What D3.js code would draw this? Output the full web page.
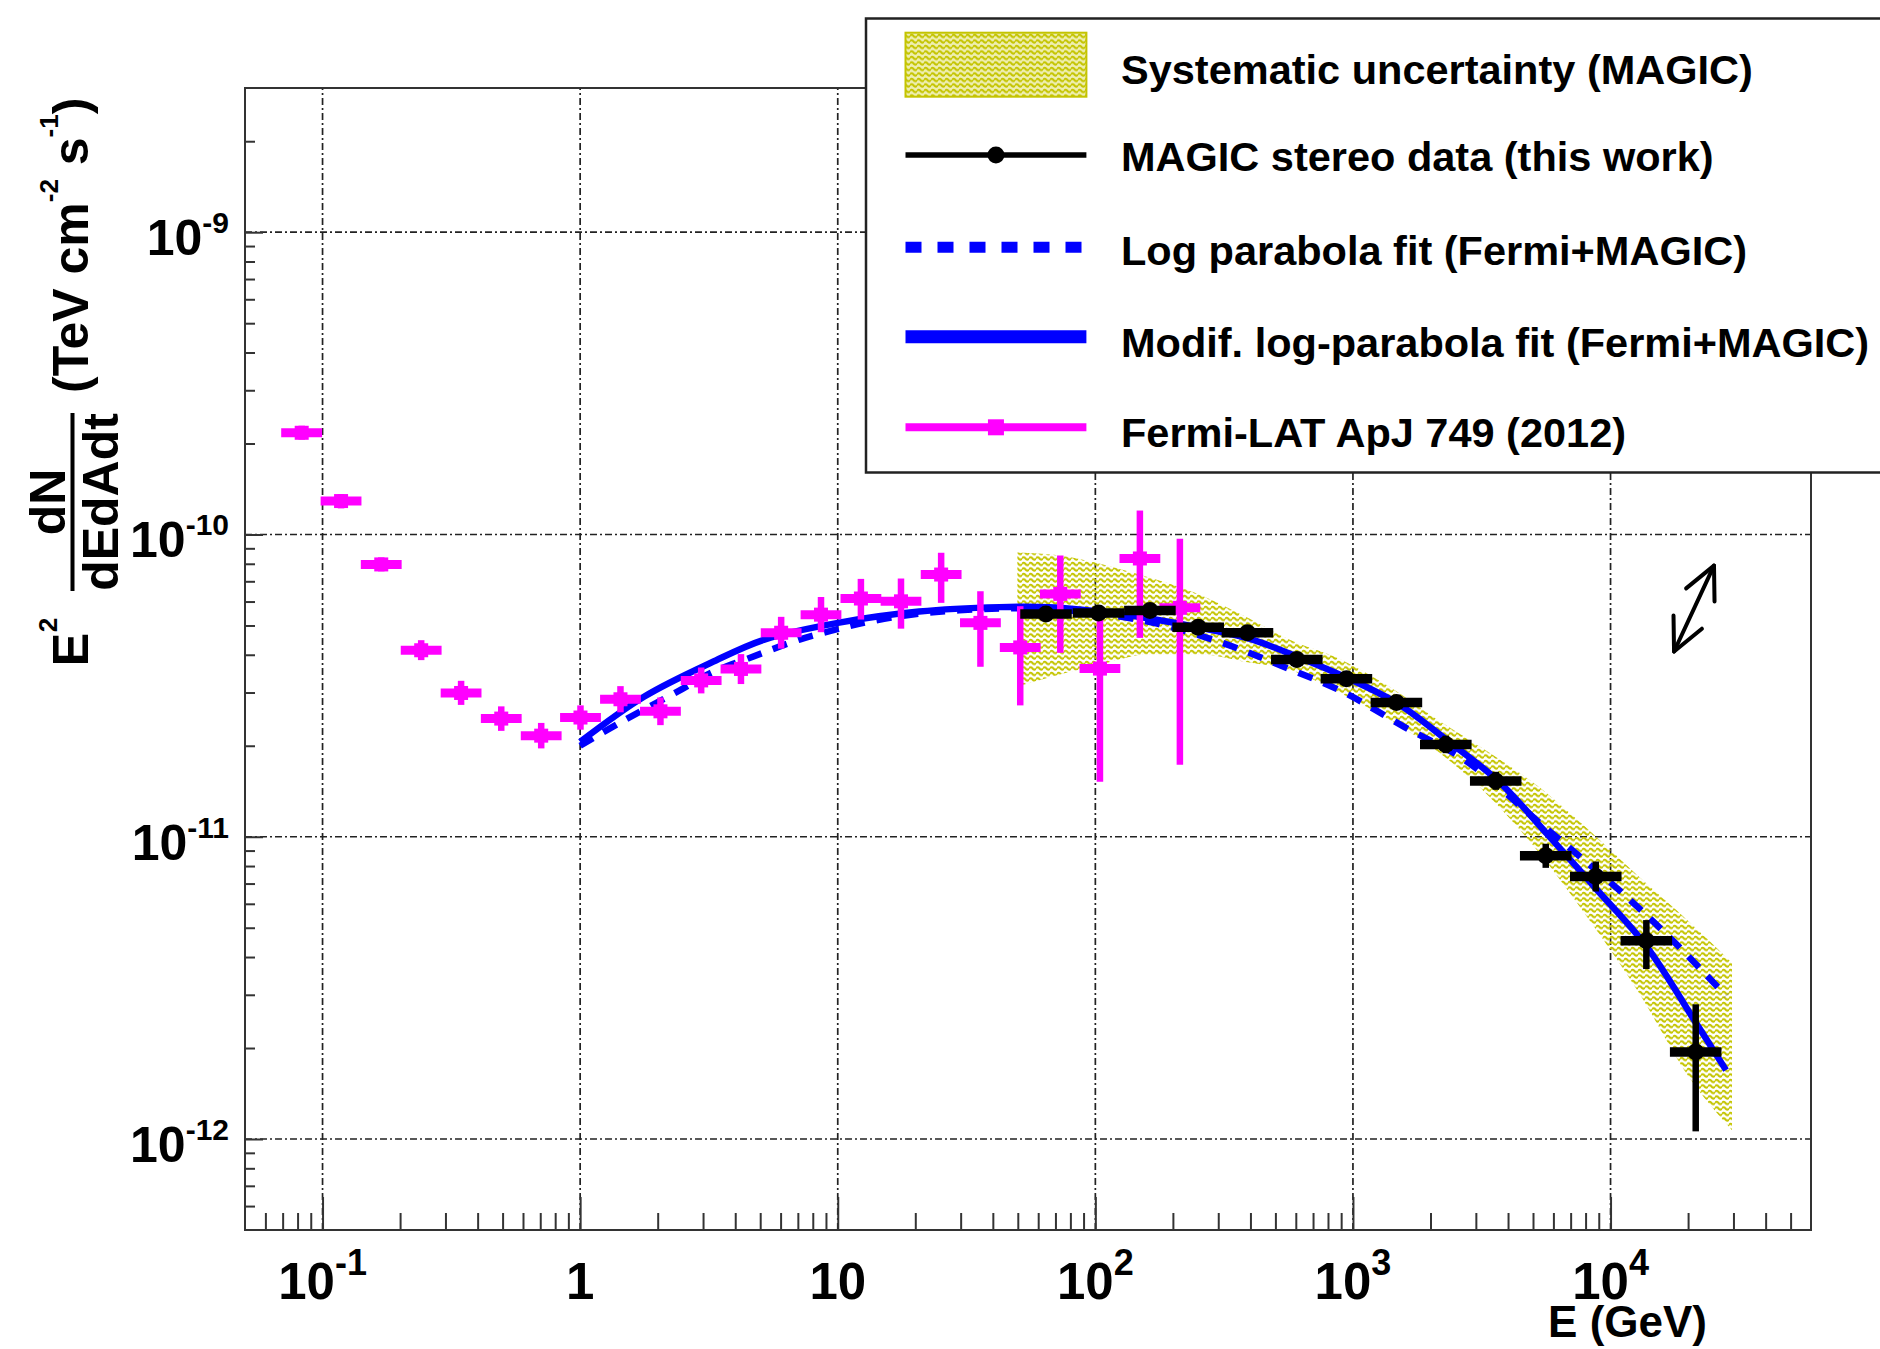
<!DOCTYPE html>
<html><head><meta charset="utf-8">
<script src="https://cdn.jsdelivr.net/npm/d3@7"></script>
<style>
html,body{margin:0;padding:0;background:#fff;}
svg{display:block;}
text{font-family:"Liberation Sans",Arial,Helvetica,sans-serif;font-weight:bold;fill:#000;}
</style></head><body>
<svg id="chart" width="1880" height="1349"></svg>
<script>
// ---------------- DATA ----------------
// Fermi-LAT ApJ 749 (2012) — E in GeV, flux E^2 dN/dE in TeV cm^-2 s^-1
const fermiE   = [0.083, 0.118, 0.169, 0.2415, 0.345, 0.494, 0.706, 1.003, 1.434, 2.05, 2.95, 4.21, 6.03, 8.61, 12.3, 17.6, 25.2, 35.8, 51.1, 73.1, 104.2, 148.9, 212.9];
const fermiElo = [0.0691, 0.0983, 0.1408, 0.2012, 0.2875, 0.4117, 0.5883, 0.8358, 1.195, 1.708, 2.458, 3.508, 5.025, 7.175, 10.25, 14.67, 21.0, 29.83, 42.58, 60.92, 86.83, 124.1, 177.4];
const fermiEhi = [0.0996, 0.1416, 0.2028, 0.2898, 0.414, 0.5928, 0.8472, 1.204, 1.721, 2.46, 3.54, 5.052, 7.236, 10.33, 14.76, 21.12, 30.24, 42.96, 61.32, 87.72, 125.0, 178.7, 255.5];
const fermiF   = [2.17e-10, 1.29e-10, 7.96e-11, 4.14e-11, 2.99e-11, 2.46e-11, 2.16e-11, 2.48e-11, 2.85e-11, 2.60e-11, 3.29e-11, 3.59e-11, 4.73e-11, 5.43e-11, 6.14e-11, 6.01e-11, 7.37e-11, 5.10e-11, 4.23e-11, 6.36e-11, 3.60e-11, 8.33e-11, 5.72e-11];
const fermiFlo = [2.06e-10, 1.22e-10, 7.55e-11, 3.84e-11, 2.73e-11, 2.24e-11, 1.96e-11, 2.26e-11, 2.58e-11, 2.34e-11, 2.98e-11, 3.20e-11, 4.19e-11, 4.75e-11, 5.23e-11, 4.88e-11, 5.94e-11, 3.65e-11, 2.72e-11, 4.06e-11, 1.52e-11, 4.55e-11, 1.73e-11];
const fermiFhi = [2.29e-10, 1.36e-10, 8.40e-11, 4.47e-11, 3.28e-11, 2.70e-11, 2.38e-11, 2.72e-11, 3.15e-11, 2.89e-11, 3.63e-11, 4.02e-11, 5.34e-11, 6.21e-11, 7.13e-11, 7.15e-11, 8.70e-11, 6.49e-11, 5.79e-11, 8.52e-11, 5.23e-11, 1.20e-10, 9.68e-11];

// MAGIC stereo data (this work)
const magicE   = [64.3, 102.9, 162.9, 250.8, 389.6, 605.6, 943.4, 1475, 2294, 3584, 5604, 8763, 13772, 21410];
const magicElo = [51.1, 81.7, 129.3, 199.1, 309.3, 480.8, 749.0, 1171, 1821, 2846, 4449, 6958, 10935, 17000];
const magicEhi = [81.0, 129.6, 205.1, 315.8, 490.5, 762.4, 1187.7, 1857, 2888, 4512, 7055, 11032, 17339, 26953];
const magicF   = [5.46e-11, 5.50e-11, 5.60e-11, 4.93e-11, 4.73e-11, 3.86e-11, 3.33e-11, 2.78e-11, 2.02e-11, 1.53e-11, 8.65e-12, 7.39e-12, 4.53e-12, 1.94e-12];
const magicFlo = [5.25e-11, 5.29e-11, 5.38e-11, 4.73e-11, 4.54e-11, 3.70e-11, 3.19e-11, 2.65e-11, 1.89e-11, 1.43e-11, 7.89e-12, 6.59e-12, 3.65e-12, 1.06e-12];
const magicFhi = [5.68e-11, 5.72e-11, 5.83e-11, 5.13e-11, 4.92e-11, 4.02e-11, 3.47e-11, 2.92e-11, 2.16e-11, 1.64e-11, 9.48e-12, 8.28e-12, 5.30e-12, 2.79e-12];

// Modified log-parabola fit (solid)
const modE = [1.0, 1.776, 3.233, 5.19, 10.14, 20.7, 42.4, 66.2, 103.5, 161.9, 253.1, 395.6, 618.3, 966.7, 1511, 2362, 3693, 5620, 8783, 13730, 21470, 28070];
const modF = [2.06e-11, 2.91e-11, 3.77e-11, 4.49e-11, 5.11e-11, 5.56e-11, 5.75e-11, 5.75e-11, 5.56e-11, 5.27e-11, 4.92e-11, 4.52e-11, 3.92e-11, 3.33e-11, 2.74e-11, 2.06e-11, 1.52e-11, 1.03e-11, 6.73e-12, 4.36e-12, 2.42e-12, 1.69e-12];

// Log parabola fit (dashed)
const lpE = [1.0, 1.446, 2.386, 3.233, 4.46, 7.10, 9.88, 13.27, 20.7, 42.4, 66.2, 103.5, 173.9, 308, 526.4, 924.6, 1580, 2725, 5520, 11080, 17640, 28070];
const lpF = [2.00e-11, 2.40e-11, 3.02e-11, 3.49e-11, 3.88e-11, 4.49e-11, 4.85e-11, 5.15e-11, 5.47e-11, 5.69e-11, 5.65e-11, 5.47e-11, 5.07e-11, 4.39e-11, 3.68e-11, 3.00e-11, 2.31e-11, 1.79e-11, 1.08e-11, 6.53e-12, 4.49e-12, 2.98e-12];

// Systematic uncertainty band (MAGIC)
const bandE  = [49.8, 77.1, 103.5, 161.9, 253.1, 395.6, 565.5, 884, 1382, 2160, 3377, 5280, 8254, 12900, 20170, 29610];
const bandHi = [8.72e-11, 8.46e-11, 8.02e-11, 7.20e-11, 6.33e-11, 5.27e-11, 4.49e-11, 3.88e-11, 3.14e-11, 2.42e-11, 1.90e-11, 1.46e-11, 1.05e-11, 7.37e-12, 5.23e-12, 3.83e-12];
const bandLo = [3.14e-11, 3.49e-11, 3.71e-11, 4.01e-11, 4.01e-11, 3.77e-11, 3.57e-11, 3.00e-11, 2.44e-11, 1.90e-11, 1.36e-11, 8.85e-12, 5.31e-12, 3.04e-12, 1.60e-12, 1.07e-12];

// Energy-scale arrow (double headed)
const arrowE = [17640, 25210];
const arrowF = [4.10e-11, 7.89e-11];

// Axis ticks / labels
const xMajorVals = [0.1, 1, 10, 100, 1000, 10000];
const xTickBase  = ["10", "1", "10", "10", "10", "10"];
const xTickExp   = ["-1", "", "", "2", "3", "4"];
const yMajorVals = [1e-12, 1e-11, 1e-10, 1e-9];
const yTickBase  = ["10", "10", "10", "10"];
const yTickExp   = ["-12", "-11", "-10", "-9"];

const legendLabels = ["Systematic uncertainty (MAGIC)", "MAGIC stereo data (this work)", "Log parabola fit (Fermi+MAGIC)", "Modif. log-parabola fit (Fermi+MAGIC)", "Fermi-LAT ApJ 749 (2012)"];

// ---------------- LAYOUT ----------------
const L = 245, R = 1811, T = 88, B = 1230;
const x = d3.scaleLog().domain([0.05, 6e4]).range([L, R]);
const y = d3.scaleLog().domain([5e-13, 3e-9]).range([B, T]);

const BLUE = "#0000ff", MAG = "#ff00ff", YEL = "#c4c400";

const svg = d3.select("#chart");
svg.append("rect").attr("width", 1880).attr("height", 1349).attr("fill", "#fff");
const defs = svg.append("defs");
const pat = defs.append("pattern").attr("id", "hatch").attr("patternUnits", "userSpaceOnUse")
  .attr("width", 7).attr("height", 5.5);
pat.append("path").attr("d", "M0,3 Q1.75,0.6 3.5,3 T7,3").attr("fill", "none").attr("stroke", YEL).attr("stroke-width", 2.1);
defs.append("clipPath").attr("id", "clip").append("rect").attr("x", L).attr("y", T).attr("width", R - L).attr("height", B - T);

// grid
const grid = svg.append("g").attr("stroke", "#222").attr("stroke-width", 1.7).attr("stroke-dasharray", "7,3,2,3");
xMajorVals.forEach(v => grid.append("line").attr("x1", x(v)).attr("x2", x(v)).attr("y1", B).attr("y2", T));
yMajorVals.forEach(v => grid.append("line").attr("x1", L).attr("x2", R).attr("y1", y(v)).attr("y2", y(v)));

// minor tick values
function minors(dom) {
  const out = [];
  const lo = Math.floor(Math.log10(dom[0])), hi = Math.ceil(Math.log10(dom[1]));
  for (let e = lo; e <= hi; e++) for (let m = 2; m <= 9; m++) {
    const v = m * Math.pow(10, e);
    if (v > dom[0] * 1.0001 && v < dom[1] * 0.9999) out.push(v);
  }
  return out;
}
const xMin = minors(x.domain()), yMin = minors(y.domain());

// axes ticks via d3.axis
function styleAxis(g) { g.select(".domain").remove(); g.selectAll("line").attr("stroke", "#333").attr("stroke-width", 2); g.selectAll("text").remove(); }
svg.append("g").attr("transform", `translate(0,${B})`).call(d3.axisBottom(x).tickValues(xMin).tickSize(-17).tickFormat("")).call(styleAxis);
svg.append("g").attr("transform", `translate(0,${B})`).call(d3.axisBottom(x).tickValues(xMajorVals).tickSize(-33).tickFormat("")).call(styleAxis);
svg.append("g").attr("transform", `translate(${L},0)`).call(d3.axisLeft(y).tickValues(yMin).tickSize(-10).tickFormat("")).call(styleAxis);
svg.append("g").attr("transform", `translate(${L},0)`).call(d3.axisLeft(y).tickValues(yMajorVals).tickSize(-18).tickFormat("")).call(styleAxis);

const plot = svg.append("g").attr("clip-path", "url(#clip)");

// band
const bandData = bandE.map((e, i) => ({ e, hi: bandHi[i], lo: bandLo[i] }));
plot.append("path").datum(bandData)
  .attr("d", d3.area().x(d => x(d.e)).y0(d => y(d.lo)).y1(d => y(d.hi)).curve(d3.curveMonotoneX))
  .attr("fill", "url(#hatch)");

// curves
const lineGen = d3.line().x(d => x(d[0])).y(d => y(d[1])).curve(d3.curveCatmullRom.alpha(0.5));
plot.append("path").datum(lpE.map((e, i) => [e, lpF[i]])).attr("d", lineGen)
  .attr("fill", "none").attr("stroke", BLUE).attr("stroke-width", 6.5).attr("stroke-dasharray", "15,12");
plot.append("path").datum(modE.map((e, i) => [e, modF[i]])).attr("d", lineGen)
  .attr("fill", "none").attr("stroke", BLUE).attr("stroke-width", 6.5);

// Fermi points
const fg = plot.append("g");
fermiE.forEach((e, i) => {
  fg.append("line").attr("x1", x(fermiElo[i])).attr("x2", x(fermiEhi[i])).attr("y1", y(fermiF[i])).attr("y2", y(fermiF[i]))
    .attr("stroke", MAG).attr("stroke-width", 9);
  fg.append("line").attr("x1", x(e)).attr("x2", x(e)).attr("y1", y(fermiFlo[i])).attr("y2", y(fermiFhi[i]))
    .attr("stroke", MAG).attr("stroke-width", 6.5);
  fg.append("rect").attr("x", x(e) - 7).attr("y", y(fermiF[i]) - 7).attr("width", 14).attr("height", 14).attr("fill", MAG);
});

// MAGIC points
const mg = plot.append("g");
magicE.forEach((e, i) => {
  mg.append("line").attr("x1", x(magicElo[i])).attr("x2", x(magicEhi[i])).attr("y1", y(magicF[i])).attr("y2", y(magicF[i]))
    .attr("stroke", "#000").attr("stroke-width", 9.5);
  mg.append("line").attr("x1", x(e)).attr("x2", x(e)).attr("y1", y(magicFlo[i])).attr("y2", y(magicFhi[i]))
    .attr("stroke", "#000").attr("stroke-width", 6.5);
  mg.append("circle").attr("cx", x(e)).attr("cy", y(magicF[i])).attr("r", 8.5).attr("fill", "#000");
});

// arrow
(function () {
  const x1 = x(arrowE[0]), y1 = y(arrowF[0]), x2 = x(arrowE[1]), y2 = y(arrowF[1]);
  const ang = Math.atan2(y2 - y1, x2 - x1), hl = 36, ha = 0.45;
  const g = svg.append("g").attr("stroke", "#000").attr("stroke-width", 4).attr("fill", "none").attr("stroke-linecap", "round").attr("stroke-linejoin", "round");
  g.append("line").attr("x1", x1).attr("y1", y1).attr("x2", x2).attr("y2", y2);
  const head = (px, py, a) => `M${px + hl * Math.cos(a + ha)},${py + hl * Math.sin(a + ha)}L${px},${py}L${px + hl * Math.cos(a - ha)},${py + hl * Math.sin(a - ha)}`;
  g.append("path").attr("d", head(x1, y1, ang));
  g.append("path").attr("d", head(x2, y2, ang + Math.PI));
})();

// frame
svg.append("rect").attr("x", L).attr("y", T).attr("width", R - L).attr("height", B - T)
  .attr("fill", "none").attr("stroke", "#333").attr("stroke-width", 2);

// x tick labels
xMajorVals.forEach((v, i) => {
  const t = svg.append("text").attr("x", x(v)).attr("y", 1299).attr("text-anchor", "middle").attr("font-size", 51);
  t.append("tspan").text(xTickBase[i]);
  if (xTickExp[i]) t.append("tspan").attr("font-size", 36).attr("dy", -24).text(xTickExp[i]);
});
// y tick labels
yMajorVals.forEach((v, i) => {
  const t = svg.append("text").attr("x", 229).attr("y", y(v) + 23).attr("text-anchor", "end").attr("font-size", 50);
  t.append("tspan").text(yTickBase[i]);
  t.append("tspan").attr("font-size", 30).attr("dy", -22).text(yTickExp[i]);
});

// x title
svg.append("text").attr("x", 1707).attr("y", 1337).attr("text-anchor", "end").attr("font-size", 44).text("E (GeV)");

// y title (rotated)
function rtext(bx, cy, str, size, anchor) {
  return svg.append("text").attr("transform", `translate(${bx},${cy}) rotate(-90)`).attr("text-anchor", anchor).attr("font-size", size).text(str);
}
rtext(88, 649.5, "E", 50, "middle");
rtext(57, 625, "2", 26, "middle");
rtext(65, 502, "dN", 50, "middle");
rtext(118, 502, "dEdAdt", 50, "middle");
svg.append("line").attr("x1", 72.5).attr("x2", 72.5).attr("y1", 413).attr("y2", 591).attr("stroke", "#000").attr("stroke-width", 4);
(function () {
  const t = svg.append("text").attr("transform", "translate(88,393) rotate(-90)").attr("text-anchor", "start").attr("font-size", 50);
  t.append("tspan").text("(TeV cm");
  t.append("tspan").attr("font-size", 26).attr("dy", -30).text("-2");
  t.append("tspan").attr("dy", 30).text(" s");
  t.append("tspan").attr("font-size", 26).attr("dy", -30).text("-1");
  t.append("tspan").attr("dy", 30).text(")");
})();

// legend
const lg = svg.append("g");
lg.append("rect").attr("x", 866).attr("y", 18.5).attr("width", 1100).attr("height", 454)
  .attr("fill", "#fff").attr("stroke", "#222").attr("stroke-width", 2.5);
const lx0 = 905.5, lx1 = 1086.4, lxc = (lx0 + lx1) / 2, tx = 1121;
const rowY = [64.7, 155, 247.3, 336.7, 427.3];
lg.append("rect").attr("x", lx0).attr("y", 32.7).attr("width", lx1 - lx0).attr("height", 64)
  .attr("fill", "#eeeeb0").attr("stroke", "none");
lg.append("rect").attr("x", lx0).attr("y", 32.7).attr("width", lx1 - lx0).attr("height", 64)
  .attr("fill", "url(#hatch)").attr("stroke", YEL).attr("stroke-width", 2);
lg.append("line").attr("x1", lx0).attr("x2", lx1).attr("y1", rowY[1]).attr("y2", rowY[1]).attr("stroke", "#000").attr("stroke-width", 5.5);
lg.append("circle").attr("cx", lxc).attr("cy", rowY[1]).attr("r", 8.5).attr("fill", "#000");
lg.append("line").attr("x1", lx0).attr("x2", lx1).attr("y1", rowY[2]).attr("y2", rowY[2]).attr("stroke", BLUE).attr("stroke-width", 11).attr("stroke-dasharray", "16,16");
lg.append("line").attr("x1", lx0).attr("x2", lx1).attr("y1", rowY[3]).attr("y2", rowY[3]).attr("stroke", BLUE).attr("stroke-width", 13);
lg.append("line").attr("x1", lx0).attr("x2", lx1).attr("y1", rowY[4]).attr("y2", rowY[4]).attr("stroke", MAG).attr("stroke-width", 8);
lg.append("rect").attr("x", lxc - 8).attr("y", rowY[4] - 8).attr("width", 16).attr("height", 16).attr("fill", MAG);
const baseY = [83.5, 171, 265, 357, 447];
legendLabels.forEach((s, i) => lg.append("text").attr("x", tx).attr("y", baseY[i]).attr("font-size", 41.5).text(s));
</script>
</body></html>
